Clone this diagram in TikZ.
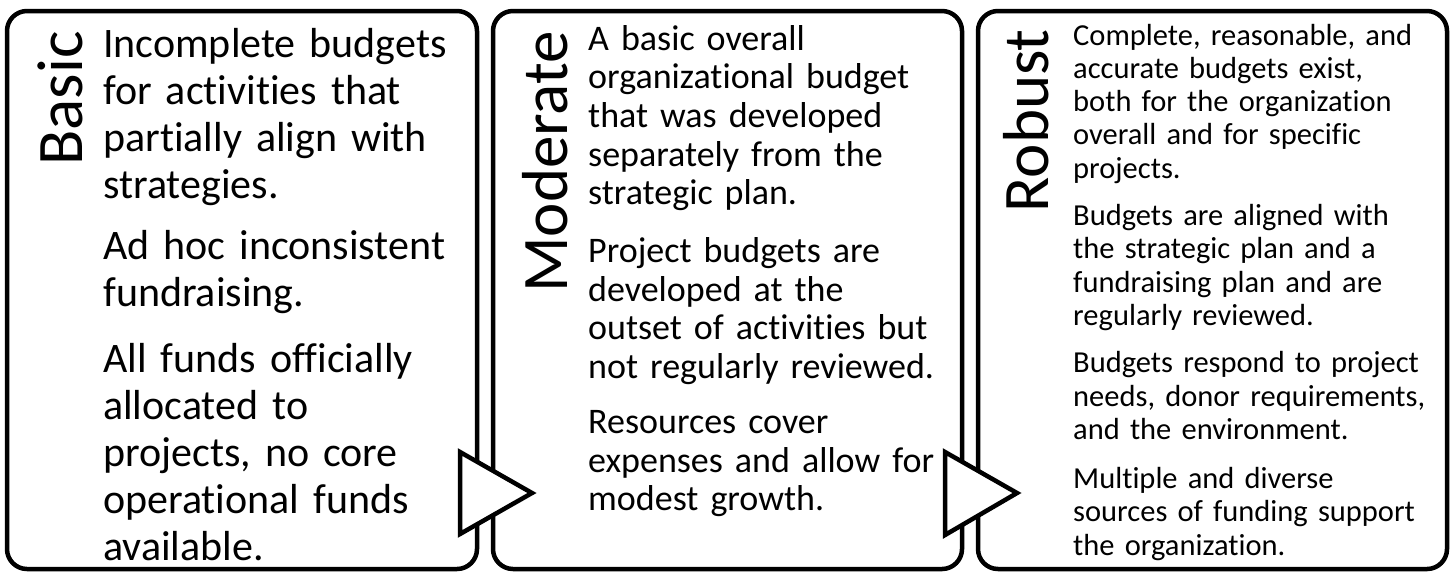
\documentclass[tikz,border=0pt]{standalone}
\usepackage{fontspec}
\setmainfont{Carlito}[Ligatures=NoCommon]
\tikzset{
	stagebox/.style={line width=4.5pt, rounded corners=20pt},
	stagelabel/.style={rotate=90, anchor=base east, inner sep=0pt, font=\fontsize{65}{78}\selectfont},
	stagetext/.style={anchor=base west, inner sep=0pt, text width=390pt, align=left},
	pointer/.style={line width=4.5pt, fill=white, line join=miter},
}

\begin{document}
\begin{tikzpicture}[x=1pt, y=-1pt]
		%%%%% START %%%%%
		\useasboundingbox (0, 0) rectangle (1455, 574);
		
		\draw[stagebox] (7, 11) rectangle (477, 569);
		\draw[stagebox] (493, 11) rectangle (962, 569);
		\draw[stagebox] (978, 11) rectangle (1447, 569);
		
		\node[stagelabel] (basic) at (82, 31) {Basic};
		\node[stagelabel] (moderate) at (567, 31) {Moderate};
		\node[stagelabel] (robust) at (1048, 29) {Robust};
		
		\node[stagetext, font=\fontsize{42}{47}\selectfont] (basictext) at (103, 57) {%
			Incomplete budgets\\ for activities that\\ partially align with\\ strategies.\\[14pt]
			Ad hoc inconsistent\\ fundraising.\\[19pt]
			All funds officially\\ allocated to\\ projects, no core\\ operational funds\\ available.};
		
		\node[stagetext, font=\fontsize{36}{38.7}\selectfont] (moderatetext) at (588, 50) {%
			A basic overall\\ organizational budget\\ that was developed\\ separately from the\\ strategic plan.\\[19pt]
			Project budgets are\\ developed at the\\ outset of activities but\\ not regularly reviewed.\\[16pt]
			Resources cover\\ expenses and allow for\\ modest growth.};
		
		\node[stagetext, font=\fontsize{30.5}{33.3}\selectfont] (robusttext) at (1073, 45) {%
			Complete, reasonable, and\\ accurate budgets exist,\\ both for the organization\\ overall and for specific\\ projects.\\[14pt]
			Budgets are aligned with\\ the strategic plan and a\\ fundraising plan and are\\ regularly reviewed.\\[14pt]
			Budgets respond to project\\ needs, donor requirements,\\ and the environment.\\[16pt]
			Multiple and diverse\\ sources of funding support\\ the organization.};
		
		\draw[pointer] (460, 452) -- (460, 534) -- (532, 493) -- cycle;
		\draw[pointer] (945, 452) -- (945, 535) -- (1017, 493) -- cycle;
		%%%%% END %%%%%
\end{tikzpicture}
\end{document}
